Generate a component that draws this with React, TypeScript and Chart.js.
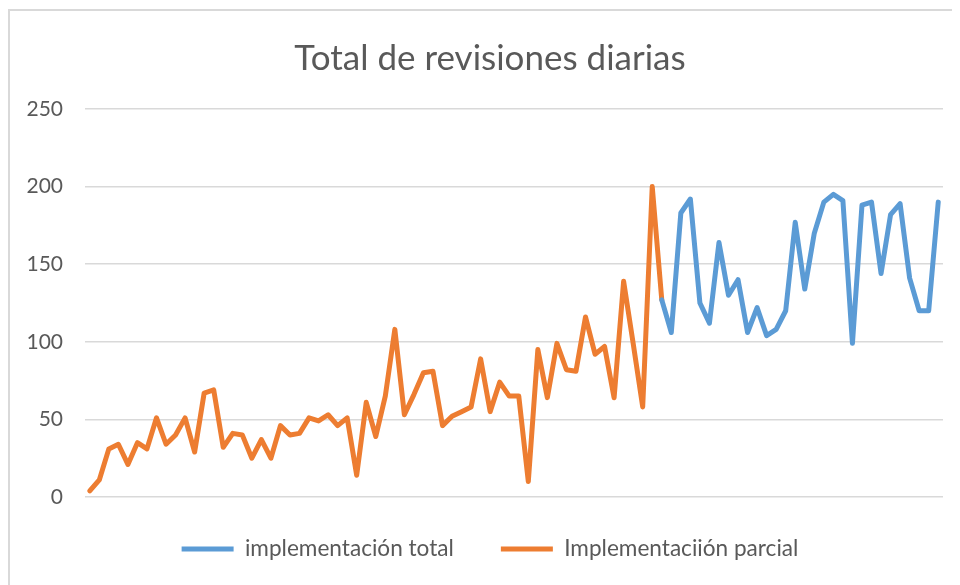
import React, { useEffect, useRef } from "react";
import { Chart, registerables } from "chart.js";

Chart.register(...registerables);

const TITLE = "Total de revisiones diarias";
const TOTAL_LABEL = "implementación total";
const PARTIAL_LABEL = "Implementaciión parcial";

// 90 consecutive days (category axis, labels hidden in the reference)
const days = Array.from({ length: 90 }, (_, i) => String(i + 1));

// "Implementaciión parcial" — days 1..61
const partialValues = [
  4, 11, 31, 34, 21, 35, 31, 51, 34, 40,
  51, 29, 67, 69, 32, 41, 40, 25, 37, 25,
  46, 40, 41, 51, 49, 53, 46, 51, 14, 61,
  39, 65, 108, 53, 66, 80, 81, 46, 52, 55,
  58, 89, 55, 74, 65, 65, 10, 95, 64, 99,
  82, 81, 116, 92, 97, 64, 139, 99, 58, 200,
  127,
];

// "implementación total" — starts at day 61
const totalStartIndex = 60;
const totalValues = [
  127, 106, 183, 192, 125, 112, 164, 130, 140, 106,
  122, 104, 108, 120, 177, 134, 170, 190, 195, 191,
  99, 188, 190, 144, 182, 189, 141, 120, 120, 190,
];

const yTicks = [0, 50, 100, 150, 200, 250];

const BLUE = "#5B9BD5";
const ORANGE = "#ED7D31";
const TEXT = "#595959";
const GRID = "#D9D9D9";
const FONT = "Lato, 'Open Sans', sans-serif";

// let the y tick labels extend into the left layout padding (no clipping)
const widenYLabelArea = {
  id: "widenYLabelArea",
  afterLayout(chart: any) {
    const y = chart.scales.y;
    if (y) y.left = 0;
  },
};

export default function App() {
  const ref = useRef<HTMLCanvasElement | null>(null);

  useEffect(() => {
    if (!ref.current) return;
    const totalData = days.map((_, i) =>
      i >= totalStartIndex && i - totalStartIndex < totalValues.length
        ? totalValues[i - totalStartIndex]
        : null
    );
    const partialData = days.map((_, i) =>
      i < partialValues.length ? partialValues[i] : null
    );
    const chart = new Chart(ref.current, {
      type: "line",
      data: {
        labels: days,
        datasets: [
          {
            label: TOTAL_LABEL,
            data: totalData,
            borderColor: BLUE,
            backgroundColor: BLUE,
            borderWidth: 5,
            pointRadius: 0,
            tension: 0,
            borderJoinStyle: "round",
            borderCapStyle: "round",
            spanGaps: false,
          },
          {
            label: PARTIAL_LABEL,
            data: partialData,
            borderColor: ORANGE,
            backgroundColor: ORANGE,
            borderWidth: 5,
            pointRadius: 0,
            tension: 0,
            borderJoinStyle: "round",
            borderCapStyle: "round",
            spanGaps: false,
          },
        ],
      },
      plugins: [widenYLabelArea],
      options: {
        responsive: false,
        animation: false,
        layout: { padding: { top: 0, left: 29, right: 27, bottom: 8.4 } },
        plugins: {
          title: {
            display: true,
            text: TITLE,
            color: TEXT,
            font: { family: FONT, size: 35, weight: "normal" },
            padding: { top: 30, bottom: 29 },
          },
          legend: {
            position: "bottom",
            labels: {
              usePointStyle: true,
              pointStyle: "line",
              pointStyleWidth: 52,
              padding: 47,
              color: TEXT,
              font: { family: FONT, size: 22.6 },
            },
          },
          tooltip: { enabled: false },
        },
        scales: {
          x: {
            offset: true,
            grid: { display: false },
            border: { display: false },
            ticks: { display: false },
            afterFit: (s: any) => {
              s.height = -6.3;
            },
          },
          y: {
            min: yTicks[0],
            max: yTicks[yTicks.length - 1],
            ticks: {
              stepSize: yTicks[1] - yTicks[0],
              padding: 22,
              color: TEXT,
              font: { family: FONT, size: 21 },
            },
            grid: { color: GRID, lineWidth: 1.5, drawTicks: false },
            border: { display: false },
            afterFit: (s: any) => {
              s.width = 48;
            },
          },
        },
      },
    });
    return () => chart.destroy();
  }, []);

  return (
    <div
      style={{
        position: "relative",
        width: 952,
        height: 577,
        overflow: "hidden",
        background: "#fff",
      }}
    >
      <div
        style={{
          position: "absolute",
          left: 0,
          top: 1,
          width: 2000,
          height: 2000,
          border: "2px solid #D9D9D9",
          boxSizing: "border-box",
        }}
      />
      <canvas
        ref={ref}
        width={962}
        height={577}
        style={{ position: "absolute", left: 0, top: 0, width: 962, height: 577 }}
      />
    </div>
  );
}
